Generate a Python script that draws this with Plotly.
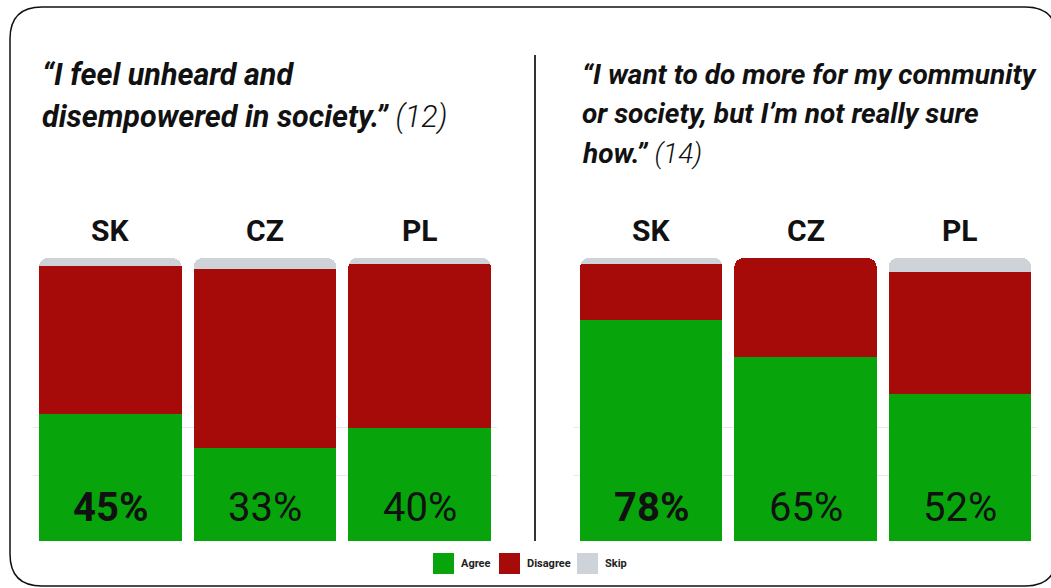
import plotly.graph_objects as go

# ---- data ----
countries = ["SK", "CZ", "PL"]
q1_agree = [0.45, 0.33, 0.40]
q1_disagree = [0.52, 0.63, 0.58]
q1_skip = [0.03, 0.04, 0.02]
q2_agree = [0.78, 0.65, 0.52]
q2_disagree = [0.20, 0.35, 0.43]
q2_skip = [0.02, 0.00, 0.05]
q1_labels = ["<b>45%</b>", "33%", "40%"]
q2_labels = ["<b>78%</b>", "65%", "52%"]
legend_names = ["Agree", "Disagree", "Skip"]

GREEN = "#08A40C"
RED = "#A60A09"
GRAY = "#CED3DA"
FONT = "Roboto"
W, H = 1051, 588

def px_x(x):
    return x / W

def px_y(y):
    return 1 - y / H

fig = go.Figure()
for (agree, dis, skip, xa, ya) in [
    (q1_agree, q1_disagree, q1_skip, "x", "y"),
    (q2_agree, q2_disagree, q2_skip, "x2", "y2"),
]:
    for vals, name, col in zip([agree, dis, skip], legend_names, [GREEN, RED, GRAY]):
        fig.add_trace(go.Bar(x=countries, y=vals, name=name, marker_color=col,
                             marker_line_width=0, xaxis=xa, yaxis=ya,
                             showlegend=False, hoverinfo="skip"))

ydom = [px_y(541), px_y(258)]
grid_vals = [0.23, 0.40, 1.0]
fig.update_layout(
    width=W, height=H, margin=dict(l=0, r=0, t=0, b=0),
    paper_bgcolor="white", plot_bgcolor="white",
    barmode="stack", bargap=0.077, barcornerradius=9,
    font=dict(family=FONT, color="#111"),
    xaxis=dict(domain=[px_x(33), px_x(497)], showticklabels=False, showgrid=False,
               zeroline=False, showline=False, fixedrange=True),
    xaxis2=dict(domain=[px_x(574), px_x(1037)], showticklabels=False, showgrid=False,
                zeroline=False, showline=False, anchor="y2", fixedrange=True),
    yaxis=dict(domain=ydom, range=[0, 1], showticklabels=False, tickvals=grid_vals,
               showgrid=True, gridcolor="#E9E9E9", gridwidth=1, zeroline=False, fixedrange=True),
    yaxis2=dict(domain=ydom, range=[0, 1], showticklabels=False, tickvals=grid_vals,
                showgrid=True, gridcolor="#E9E9E9", gridwidth=1, zeroline=False,
                anchor="x2", fixedrange=True),
)

ann = []
for xr, yr, labels in [("x", "y", q1_labels), ("x2", "y2", q2_labels)]:
    for c, lab in zip(countries, labels):
        ann.append(dict(x=c, y=1, xref=xr, yref=yr, yanchor="bottom", yshift=8,
                        text=f"<b>{c}</b>", showarrow=False,
                        font=dict(family=FONT, size=30, color="#111")))
        ann.append(dict(x=c, y=0, xref=xr, yref=yr, yanchor="bottom", yshift=8,
                        text=lab, showarrow=False,
                        font=dict(family=FONT, size=40, color="#111")))

light = "<span style='font-weight:300'><i>{}</i></span>"
titles = [
    (40, 75, 30.5, "<b><i>\u201cI feel unheard and</i></b>"),
    (40, 117, 30.5, "<b><i>disempowered in society.\u201d</i></b> " + light.format("(12)")),
    (580, 74, 28, "<b><i>\u201cI want to do more for my community</i></b>"),
    (580, 113, 28, "<b><i>or society, but I\u2019m not really sure</i></b>"),
    (580, 153, 28, "<b><i>how.\u201d</i></b> " + light.format("(14)")),
]
for x, y, s, t in titles:
    ann.append(dict(x=px_x(x), y=px_y(y), xref="paper", yref="paper", xanchor="left",
                    yanchor="middle", text=t, showarrow=False,
                    font=dict(family=FONT, size=s, color="#111")))

# custom legend
shapes = []
leg_items = [(433, "Agree", GREEN), (499, "Disagree", RED), (577, "Skip", GRAY)]
for x0, name, col in leg_items:
    shapes.append(dict(type="rect", xref="paper", yref="paper",
                       x0=px_x(x0), x1=px_x(x0 + 21), y0=px_y(574), y1=px_y(553),
                       fillcolor=col, line=dict(width=0)))
    ann.append(dict(x=px_x(x0 + 26), y=px_y(563), xref="paper", yref="paper",
                    xanchor="left", yanchor="middle", text=f"<b>{name}</b>",
                    showarrow=False, font=dict(family=FONT, size=11, color="#222")))

# divider
shapes.append(dict(type="line", xref="paper", yref="paper", x0=px_x(535), x1=px_x(535),
                   y0=px_y(55), y1=px_y(541), line=dict(color="#333", width=2)))

# rounded card border
L, T, R, B, r = 10, 7, 1057, 586, 32
rx, ry = r / W, r / H
xl, xr_, yt, yb = px_x(L), px_x(R), px_y(T), px_y(B)
path = (f"M {xl+rx},{yt} L {xr_-rx},{yt} Q {xr_},{yt} {xr_},{yt-ry} "
        f"L {xr_},{yb+ry} Q {xr_},{yb} {xr_-rx},{yb} L {xl+rx},{yb} "
        f"Q {xl},{yb} {xl},{yb+ry} L {xl},{yt-ry} Q {xl},{yt} {xl+rx},{yt} Z")
shapes.append(dict(type="path", xref="paper", yref="paper", path=path,
                   line=dict(color="#111", width=1.5)))

fig.update_layout(annotations=ann, shapes=shapes)
fig.write_html(
    "out.html",
    config={"displayModeBar": False, "staticPlot": True},
    post_script=("document.body.style.margin='0';"
                 "document.body.style.overflow='hidden';"
                 "document.documentElement.style.overflow='hidden';"),
)
